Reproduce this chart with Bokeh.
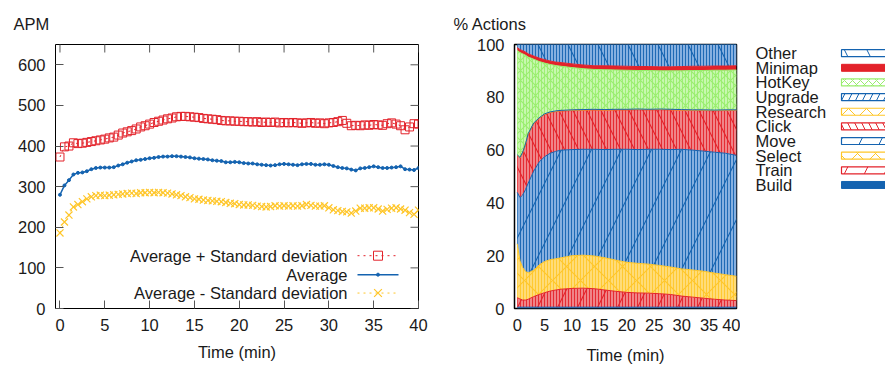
import math
from bokeh.plotting import figure
from bokeh.models import Range1d, FixedTicker, ColumnDataSource, Title
from bokeh.layouts import row
from bokeh.embed import file_html
from bokeh.resources import INLINE
from bokeh.core.properties import value

FONT = "Liberation Sans"
FS = "16.5px"
TXT = "#1a1a1a"
RED = "#e3222a"
BLUE = "#1463b0"
YEL = "#ffc629"
GREEN = "#99ee6e"

# ---------------- data: APM (left) ----------------
time_apm = [i * 0.5 for i in range(81)]
apm_avg = [280, 303, 316, 330, 334, 335, 338, 343, 346, 347, 347, 347, 348, 352, 355, 359,
           362, 365, 366, 368, 370, 371, 373, 374, 374, 375, 375, 374, 373, 372, 370, 369,
           368, 367, 365, 364, 363, 360, 360, 361, 360, 358, 357, 357, 355, 354, 353, 352,
           353, 355, 356, 355, 354, 353, 355, 356, 356, 354, 354, 355, 354, 351, 348, 346,
           345, 342, 340, 345, 346, 348, 350, 348, 346, 346, 347, 348, 350, 343, 342, 341, 346]
apm_upper = [373, 398, 400, 408, 406, 407, 409, 411, 413, 415, 417, 420, 422, 427, 432, 435,
             438, 442, 447, 450, 454, 458, 461, 464, 467, 469, 472, 473, 473, 472, 471, 470,
             468, 467, 466, 465, 463, 462, 462, 461, 461, 460, 460, 459, 460, 458, 459, 458,
             459, 457, 458, 457, 458, 457, 456, 457, 458, 456, 457, 455, 457, 458, 460, 463,
             456, 450, 451, 450, 452, 451, 453, 452, 451, 455, 457, 454, 450, 440, 447, 455, 454]
apm_lower = [186, 213, 230, 250, 256, 263, 270, 275, 278, 279, 278, 279, 280, 281, 282, 283,
             284, 283, 285, 285, 286, 285, 286, 285, 284, 282, 280, 278, 275, 273, 270, 269,
             267, 266, 265, 264, 263, 261, 259, 258, 256, 255, 255, 254, 252, 251, 250, 251,
             253, 252, 253, 252, 253, 252, 253, 256, 254, 252, 252, 253, 248, 243, 241, 239,
             238, 235, 240, 247, 247, 248, 248, 245, 240, 244, 247, 248, 245, 242, 236, 232, 242]
series_names = ["Average + Standard deviation", "Average", "Average - Standard deviation"]
x_ticks = [0, 5, 10, 15, 20, 25, 30, 35, 40]
apm_ticks = [0, 100, 200, 300, 400, 500, 600]
pct_ticks = [0, 20, 40, 60, 80, 100]

# ---------------- data: % actions (right) ----------------
time_act = [0, 0.5, 1, 1.5, 2, 3, 4, 5, 6, 7, 8, 10, 12, 14, 16, 18, 20, 22, 24, 26, 28, 30,
            32, 34, 36, 38, 40]
build = [0.5] * 27
train = [3.6, 3.1, 2.7, 2.7, 3.0, 4.0, 4.8, 5.5, 6.1, 6.5, 6.8, 7.1, 7.2, 7.0, 6.5, 6.0, 5.6,
         5.4, 5.3, 5.1, 4.8, 4.2, 3.8, 3.4, 3.0, 2.7, 2.5]
select = [20.4, 14.4, 12.3, 10.8, 10.0, 10.0, 11.2, 11.8, 11.9, 11.8, 11.9, 12.4, 12.5, 12.4,
          12.2, 11.8, 11.4, 11.2, 11.0, 10.7, 10.4, 10.3, 10.3, 10.2, 9.9, 9.6, 9.2]
move = [19.5, 24.0, 27.5, 31.0, 34.0, 37.5, 39.0, 39.7, 40.3, 40.7, 40.8, 40.2, 40.1, 40.4,
        41.0, 42.0, 42.8, 43.1, 43.5, 44.0, 44.5, 45.3, 45.4, 45.5, 45.8, 46.0, 45.8]
click = [14.0, 15.0, 16.0, 17.0, 18.5, 18.0, 16.5, 16.0, 15.4, 15.1, 14.8, 14.8, 14.8, 14.9,
         14.9, 14.9, 14.9, 15.1, 14.9, 15.0, 15.0, 14.8, 15.0, 15.4, 15.7, 16.2, 17.0]
research = [0.1] * 27
upgrade = [0.15] * 27
hotkey = [39.5, 39.7, 37.2, 33.7, 29.0, 24.2, 21.3, 19.2, 18.0, 17.2, 16.7, 16.0, 15.5, 15.1,
          15.1, 14.9, 14.8, 14.6, 14.7, 14.5, 14.6, 14.7, 14.9, 14.9, 15.1, 15.0, 15.1]
minimap = [1.1, 1.1, 1.2, 1.2, 1.2, 1.2, 1.3, 1.3, 1.3, 1.3, 1.4, 1.4, 1.4, 1.4, 1.5, 1.5,
           1.5, 1.5, 1.5, 1.5, 1.5, 1.6, 1.6, 1.6, 1.6, 1.6, 1.6]
categories = ["Build", "Train", "Select", "Move", "Click", "Research", "Upgrade", "HotKey",
              "Minimap", "Other"]

parts = [build, train, select, move, click, research, upgrade, hotkey, minimap]
other = [round(100 - sum(p[i] for p in parts), 2) for i in range(len(time_act))]

# ---------------- helpers ----------------
def style_axis(ax, ticks, tick_len=8):
    ax.ticker = FixedTicker(ticks=ticks)
    ax.major_tick_in = tick_len
    ax.major_tick_out = 0
    ax.minor_tick_in = 0
    ax.minor_tick_out = 0
    ax.major_tick_line_color = "#555555"
    ax.axis_line_color = None
    ax.major_label_text_font = FONT
    ax.major_label_text_color = TXT
    ax.major_label_text_font_size = FS
    ax.major_label_standoff = 10
    ax.axis_label_text_font = FONT
    ax.axis_label_text_font_size = FS
    ax.axis_label_text_font_style = "normal"
    ax.axis_label_text_color = TXT

def make_title(text, offset, standoff):
    return Title(text=text, align="left", offset=offset, standoff=standoff,
                 text_font=FONT, text_font_size=FS, text_font_style="normal",
                 text_color=TXT)

# ---------------- left figure ----------------
p1 = figure(width=440, height=366, x_range=Range1d(-0.5, 40), y_range=Range1d(0, 650),
            output_backend="svg", toolbar_location=None,
            min_border_left=55, min_border_right=22, min_border_top=44, min_border_bottom=57)
p1.title = make_title("APM", -42, 23)
p1.grid.visible = False
p1.outline_line_color = "black"
p1.outline_line_width = 1
style_axis(p1.xaxis[0], x_ticks)
style_axis(p1.yaxis[0], apm_ticks)
p1.xaxis[0].axis_label = "Time (min)"
p1.xaxis[0].axis_label_standoff = 9

# mirrored inward ticks on top and right (half of each dash is clipped by the frame)
p1.scatter(x_ticks, [650] * len(x_ticks), marker="dash", angle=math.pi / 2, size=16,
           line_color="#555555", line_width=1)
p1.scatter([40] * len(apm_ticks), apm_ticks, marker="dash", size=16,
           line_color="#555555", line_width=1)

p1.line(time_apm, apm_upper, line_color=RED, line_width=1, line_dash="2 4")
p1.scatter(time_apm, apm_upper, marker="square", size=8, line_color=RED, fill_color=None,
           line_width=1)
p1.line(time_apm, apm_lower, line_color=YEL, line_width=1, line_dash="2 4")
p1.scatter(time_apm, apm_lower, marker="x", size=10, line_color=YEL, line_width=1.2)
p1.line(time_apm, apm_avg, line_color=BLUE, line_width=1.5)
p1.scatter(time_apm, apm_avg, marker="circle", size=3, line_color=BLUE, fill_color=BLUE)

# pixel -> data helpers for the legend (left frame: x 55..418, y 44..309)
def lx(px):
    return -0.5 + (px - 55) * 40.5 / 363.0
def ly(py):
    return (309 - py) * 650.0 / 265.0

leg_rows = [256, 275, 293.5]
leg_style = [(RED, "2 4", "square"), (BLUE, "solid", "dot"), (YEL, "2 4", "x")]
p1.text(x=[lx(347)] * 3, y=[ly(r) for r in leg_rows], text=series_names,
        text_font=value(FONT), text_font_size=FS, text_align="right",
        text_baseline="middle", text_color=TXT)
for py, (col, dash, mk) in zip(leg_rows, leg_style):
    p1.line([lx(357), lx(398)], [ly(py), ly(py)], line_color=col,
            line_width=1.5 if dash == "solid" else 1, line_dash=dash)
    if mk == "square":
        p1.scatter([lx(377.5)], [ly(py)], marker="square", size=9, line_color=col, fill_color=None)
    elif mk == "x":
        p1.scatter([lx(377.5)], [ly(py)], marker="x", size=11, line_color=col, line_width=1.2)
    else:
        p1.scatter([lx(377.5)], [ly(py)], marker="circle", size=3, line_color=col, fill_color=col)

# ---------------- right figure ----------------
p2 = figure(width=300, height=366, x_range=Range1d(-0.5, 40), y_range=Range1d(0, 100),
            output_backend="svg", toolbar_location=None,
            min_border_left=74, min_border_right=4, min_border_top=44, min_border_bottom=57)
p2.title = make_title("% Actions", -61, 23)
p2.grid.visible = False
p2.outline_line_color = "black"
p2.outline_line_width = 1.5
style_axis(p2.xaxis[0], x_ticks, tick_len=0)
style_axis(p2.yaxis[0], pct_ticks, tick_len=0)
p2.xaxis[0].axis_label = "Time (min)"
p2.xaxis[0].axis_label_standoff = 12

src = ColumnDataSource(dict(t=time_act, Build=build, Train=train, Select=select, Move=move,
                            Click=click, Research=research, Upgrade=upgrade, HotKey=hotkey,
                            Minimap=minimap, Other=other))

base = {"Build": BLUE, "Train": RED, "Select": YEL, "Move": BLUE, "Click": RED,
        "Research": YEL, "Upgrade": BLUE, "HotKey": GREEN, "Minimap": RED, "Other": BLUE}
tint = {"Build": BLUE, "Train": "#f08488", "Select": "#ffdc78", "Move": "#86b0e0",
        "Click": "#f08488", "Research": "#ffdc78", "Upgrade": "#86b0e0", "HotKey": "#c8f8b0",
        "Minimap": RED, "Other": "#86b0e0"}
solid = {"Build", "Minimap"}
diag = {"Build": " ", "Train": "/", "Select": "x", "Move": "/", "Click": "\\",
        "Research": "x", "Upgrade": "/", "HotKey": "x", "Minimap": " ", "Other": "\\"}
diag_scale = {"Build": 10, "Train": 40, "Select": 28, "Move": 60, "Click": 28,
              "Research": 15, "Upgrade": 12, "HotKey": 10, "Minimap": 10, "Other": 60}

p2.varea_stack(categories, x="t", source=src,
               fill_color=[tint[c] for c in categories],
               hatch_pattern=[" " if c in solid else "|" for c in categories],
               hatch_color=[base[c] for c in categories],
               hatch_scale=3, hatch_weight=1, hatch_alpha=0.9)
p2.varea_stack(categories, x="t", source=src,
               fill_alpha=0,
               hatch_pattern=[diag[c] for c in categories],
               hatch_color=[base[c] for c in categories],
               hatch_scale=[diag_scale[c] for c in categories],
               hatch_weight=1.1, hatch_alpha=1.0)
p2.vline_stack(categories, x="t", source=src,
               line_color=[base[c] for c in categories], line_width=1)

# ---------------- legend figure (pixel coordinates of the page) ----------------
p3 = figure(width=145, height=366, x_range=Range1d(740, 885), y_range=Range1d(309, 44),
            output_backend="svg", toolbar_location=None,
            min_border_left=0, min_border_right=0, min_border_top=44, min_border_bottom=57,
            x_axis_location=None, y_axis_location=None)
p3.grid.visible = False
p3.outline_line_color = None

leg_order = ["Other", "Minimap", "HotKey", "Upgrade", "Research", "Click", "Move", "Select",
             "Train", "Build"]
leg_scale = {"Other": 45, "Minimap": 10, "HotKey": 8, "Upgrade": 14, "Research": 18,
             "Click": 14, "Move": 40, "Select": 18, "Train": 40, "Build": 10}
ys = [52.7 + i * 14.7 for i in range(len(leg_order))]
p3.text(x=[755] * len(leg_order), y=ys, text=leg_order, text_font=value(FONT),
        text_font_size=FS, text_baseline="middle", text_align="left", text_color=TXT)
for c, y in zip(leg_order, ys):
    if c in solid:
        p3.quad(left=841, right=900, bottom=y + 3.5, top=y - 3.5, fill_color=base[c],
                line_color=base[c])
    else:
        p3.quad(left=841, right=900, bottom=y + 3.5, top=y - 3.5, fill_color="white",
                line_color=base[c], line_width=1.2, hatch_pattern=diag[c],
                hatch_color=base[c], hatch_scale=leg_scale[c], hatch_weight=1)

layout = row(p1, p2, p3)
open("out.html", "w").write(file_html(layout, INLINE))
